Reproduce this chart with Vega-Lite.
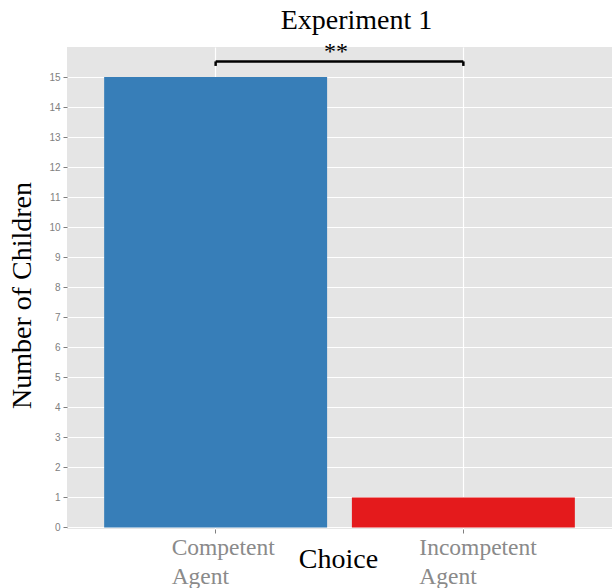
{
  "$schema": "https://vega.github.io/schema/vega-lite/v6.json",
  "autosize": {"type": "none"},
  "padding": {"left": 67, "top": 47, "right": 0, "bottom": 59},
  "width": 545,
  "height": 482,
  "background": "white",
  "title": {
    "text": "Experiment 1",
    "font": "Liberation Serif",
    "fontSize": 28,
    "fontWeight": "normal",
    "color": "black",
    "anchor": "middle",
    "baseline": "alphabetic",
    "offset": 15,
    "dx": 17,
    "dy": 32
  },
  "datasets": {
    "bars": [
      {"choice": "Competent Agent", "count": 15},
      {"choice": "Incompetent Agent", "count": 1}
    ],
    "bracket": [
      {"from": "Competent Agent", "to": "Incompetent Agent", "top": 15.52, "label": "**", "labelY": 15.6}
    ],
    "ends": [
      {"choice": "Competent Agent", "low": 15.37, "high": 15.52},
      {"choice": "Incompetent Agent", "low": 15.37, "high": 15.52}
    ]
  },
  "layer": [
    {
      "data": {"name": "bars"},
      "mark": {"type": "bar"},
      "encoding": {
        "x": {
          "field": "choice",
          "type": "nominal",
          "scale": {"domain": ["Competent Agent", "Incompetent Agent"], "paddingInner": 0.1, "paddingOuter": 0.15},
          "axis": {
            "grid": true,
            "gridColor": "white",
            "gridWidth": 1.2,
            "domain": false,
            "tickColor": "#7f7f7f",
            "tickSize": 4,
            "labelColor": "#8a8a8a",
            "labelFont": "Liberation Serif",
            "labelFontSize": 23.5,
            "labelAngle": 0,
            "labelAlign": "left",
            "labelBaseline": "top",
            "labelOffset": -44,
            "labelPadding": 2,
            "labelLineHeight": 29,
            "labelExpr": "split(datum.label, ' ')",
            "title": "Choice",
            "titleFont": "Liberation Serif",
            "titleFontSize": 28,
            "titleFontWeight": "normal",
            "titleColor": "black",
            "titleX": 271,
            "titleY": 38,
            "titleAlign": "center",
            "titleBaseline": "alphabetic"
          }
        },
        "y": {
          "field": "count",
          "type": "quantitative",
          "scale": {"domain": [-0.05, 16], "nice": false, "zero": false},
          "axis": {
            "values": [0,1,2,3,4,5,6,7,8,9,10,11,12,13,14,15],
            "labelOverlap": false,
            "grid": true,
            "gridColor": "white",
            "gridWidth": 1.2,
            "domain": false,
            "tickColor": "#7f7f7f",
            "tickSize": 4,
            "labelColor": "#808080",
            "labelFont": "Liberation Sans",
            "labelFontSize": 10,
            "labelPadding": 3,
            "title": "Number of Children",
            "titleFont": "Liberation Serif",
            "titleFontSize": 28,
            "titleFontWeight": "normal",
            "titleColor": "black",
            "titleAngle": -90,
            "titleX": -45,
            "titleY": 248,
            "titleAlign": "center",
            "titleBaseline": "middle"
          }
        },
        "color": {
          "field": "choice",
          "type": "nominal",
          "scale": {"domain": ["Competent Agent", "Incompetent Agent"], "range": ["#377EB8", "#E41A1C"]},
          "legend": null
        }
      }
    },
    {
      "data": {"name": "bracket"},
      "mark": {"type": "rule", "color": "black", "strokeWidth": 2.5},
      "encoding": {
        "x": {"field": "from", "type": "nominal", "bandPosition": 0.5},
        "x2": {"field": "to", "bandPosition": 0.5},
        "y": {"field": "top", "type": "quantitative", "axis": {"values": [0,1,2,3,4,5,6,7,8,9,10,11,12,13,14,15], "labelOverlap": false}}
      }
    },
    {
      "data": {"name": "ends"},
      "mark": {"type": "rule", "color": "black", "strokeWidth": 2.5},
      "encoding": {
        "x": {"field": "choice", "type": "nominal", "bandPosition": 0.5},
        "y": {"field": "low", "type": "quantitative", "axis": {"values": [0,1,2,3,4,5,6,7,8,9,10,11,12,13,14,15], "labelOverlap": false}},
        "y2": {"field": "high"}
      }
    },
    {
      "data": {"name": "bracket"},
      "mark": {"type": "text", "font": "Liberation Serif", "fontSize": 24, "color": "black", "baseline": "alphabetic", "align": "center"},
      "encoding": {
        "x": {"field": "from", "type": "nominal", "bandPosition": 1.04},
        "y": {"field": "labelY", "type": "quantitative", "axis": {"values": [0,1,2,3,4,5,6,7,8,9,10,11,12,13,14,15], "labelOverlap": false}},
        "text": {"field": "label"}
      }
    }
  ],
  "config": {
    "view": {"fill": "#E5E5E5", "stroke": null}
  }
}
